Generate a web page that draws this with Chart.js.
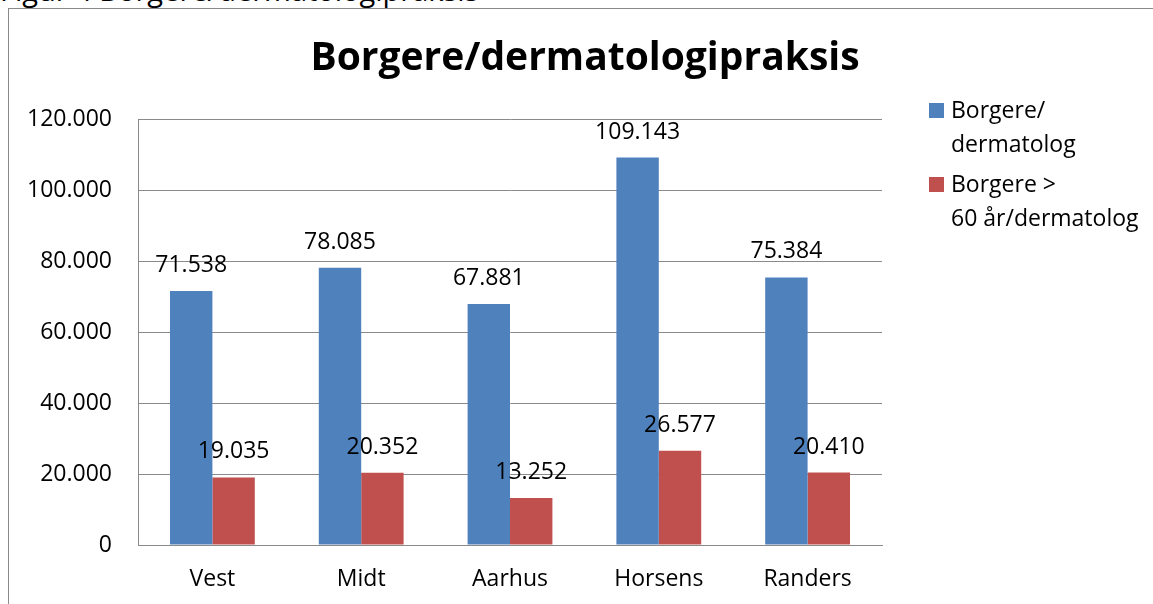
<!DOCTYPE html>
<html lang="da">
<head>
<meta charset="utf-8">
<title>Borgere/dermatologipraksis</title>
<script src="https://cdn.jsdelivr.net/npm/chart.js@4/dist/chart.umd.min.js"></script>
<style>
  html, body {
    margin: 0;
    padding: 0;
    width: 1153px;
    height: 604px;
    overflow: hidden;
    background: #fff;
  }
  #caption {
    position: absolute;
    left: 0;
    top: -24px;
    font-family: "Open Sans", sans-serif;
    font-size: 29px;
    line-height: 28px;
    color: #000;
    white-space: nowrap;
  }
  #frame {
    position: absolute;
    left: 8px;
    top: 8px;
    width: 1300px;
    height: 800px;
    border-left: 1px solid #8a8a8a;
    border-top: 1px solid #8a8a8a;
  }
  #wrap {
    position: absolute;
    left: 0;
    top: 0;
    width: 1153px;
    height: 604px;
  }
</style>
</head>
<body>
<div id="caption">Figur 4 Borgere/dermatologipraksis</div>
<div id="frame"></div>
<div id="wrap"><canvas id="chart"></canvas></div>
<script>
const chartTitle = "Borgere/dermatologipraksis";
const categories = ["Vest", "Midt", "Aarhus", "Horsens", "Randers"];
const seriesNames = [
  ["Borgere/", "dermatolog"],
  ["Borgere >", "60 år/dermatolog"],
];
const borgerePerDermatolog = [71538, 78085, 67881, 109143, 75384];
const borgere60PerDermatolog = [19035, 20352, 13252, 26577, 20410];
const yTicks = [0, 20000, 40000, 60000, 80000, 100000, 120000];

const FONT = "'Open Sans', 'Noto Sans', sans-serif";
const BLUE = "#4f81bd";
const RED = "#c0504d";
const GRID = "#8a8a8a";

document.addEventListener("DOMContentLoaded", function () {
  initializeChart();
});

// dansk tusindtalsseparator
function formatNumber(v) {
  return String(Math.round(v)).replace(/\B(?=(\d{3})+(?!\d))/g, ".");
}

// titel, værdier over søjlerne og legende
const decorations = {
  id: "decorations",
  afterDatasetsDraw(chart) {
    const ctx = chart.ctx;
    ctx.save();
    ctx.fillStyle = "#000";
    ctx.textAlign = "center";
    ctx.textBaseline = "alphabetic";
    ctx.font = "23px " + FONT;
    chart.data.datasets.forEach((ds, i) => {
      const meta = chart.getDatasetMeta(i);
      meta.data.forEach((bar, j) => {
        ctx.fillText(formatNumber(ds.data[j]), bar.x, bar.y - 19);
      });
    });

    ctx.font = "bold 39px " + FONT;
    ctx.fillText(chartTitle, 585, 70);

    ctx.textAlign = "left";
    ctx.font = "23px " + FONT;
    const tops = [103, 177];
    chart.data.datasets.forEach((ds, i) => {
      ctx.fillStyle = ds.backgroundColor;
      ctx.fillRect(929, tops[i], 15, 15);
      ctx.fillStyle = "#000";
      seriesNames[i].forEach((line, k) => {
        ctx.fillText(line, 951, tops[i] + 15 + k * 34);
      });
    });
    ctx.restore();
  },
};

let chart;

function initializeChart() {
  const ctx = document.getElementById("chart").getContext("2d");
  chart = new Chart(ctx, {
    type: "bar",
    data: {
      labels: categories,
      datasets: [
        {
          label: seriesNames[0].join(" "),
          data: borgerePerDermatolog,
          backgroundColor: BLUE,
        },
        {
          label: seriesNames[1].join(" "),
          data: borgere60PerDermatolog,
          backgroundColor: RED,
        },
      ],
    },
    options: {
      responsive: true,
      maintainAspectRatio: false,
      animation: false,
      layout: {
        padding: { left: 0, top: 119, right: 271, bottom: 0 },
      },
      datasets: {
        bar: {
          categoryPercentage: 0.57,
          barPercentage: 1,
        },
      },
      plugins: {
        legend: { display: false },
        title: { display: false },
        tooltip: { enabled: false },
      },
      scales: {
        x: {
          afterFit(scale) {
            scale.height = 59;
          },
          grid: { display: false, drawTicks: false },
          border: { display: true, color: GRID, width: 1 },
          ticks: {
            color: "#000",
            padding: 21,
            font: { size: 23, family: FONT },
          },
        },
        y: {
          min: 0,
          max: 120000,
          afterFit(scale) {
            scale.width = 138;
          },
          afterBuildTicks(scale) {
            scale.ticks = yTicks.map((v) => ({ value: v }));
          },
          grid: { color: GRID, drawTicks: false },
          border: { display: true, color: GRID, width: 1 },
          ticks: {
            color: "#000",
            padding: 26,
            font: { size: 23, family: FONT },
            callback: (v) => formatNumber(v),
          },
        },
      },
    },
    plugins: [decorations],
  });
}
</script>
</body>
</html>
